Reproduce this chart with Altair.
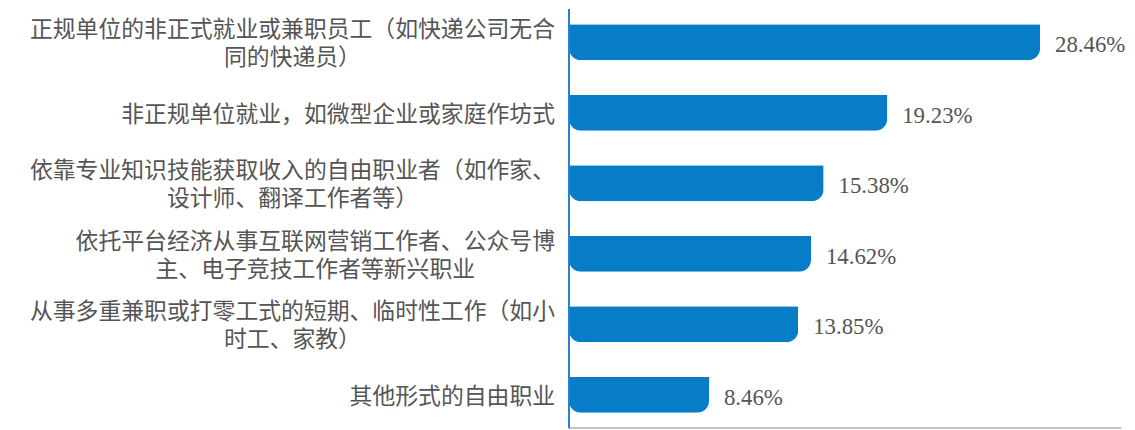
import altair as alt
import pandas as pd

# ---- data ----
labels = [
    "正规单位的非正式就业或兼职员工（如快递公司无合\n同的快递员）",
    "非正规单位就业，如微型企业或家庭作坊式",
    "依靠专业知识技能获取收入的自由职业者（如作家、\n设计师、翻译工作者等）",
    "依托平台经济从事互联网营销工作者、公众号博\n主、电子竞技工作者等新兴职业",
    "从事多重兼职或打零工式的短期、临时性工作（如小\n时工、家教）",
    "其他形式的自由职业",
]
values = [28.46, 19.23, 15.38, 14.62, 13.85, 8.46]
value_labels = ["28.46%", "19.23%", "15.38%", "14.62%", "13.85%", "8.46%"]

# ---- style ----
BAR_COLOR = "#077DC8"
AXIS_COLOR = "#2A80D2"
TEXT_COLOR = "#555555"
FS = 23            # CJK label font size (1 em = 1 character cell)
LH = 28            # line height of wrapped labels
LEFT = 565         # space left of the axis
GAP = 14           # gap between label block and axis
RIGHT_W = 556
H = 421
X_MAX = 33.35

df = pd.DataFrame({
    "cat": labels,
    "value": values,
    "vlabel": value_labels,
})
# half of the widest line, in character cells, so that wrapped lines are centred
df["half"] = [-max(len(s) for s in lab.split("\n")) / 2 for lab in labels]
df["nlines"] = [len(lab.split("\n")) for lab in labels]

yscale = alt.Scale(paddingInner=0.49, paddingOuter=0.21)
yenc = alt.Y("cat:N", sort=labels, scale=yscale, axis=None)

label_scale = alt.Scale(domain=[-(LEFT - GAP) / FS, 0], range=[-LEFT, -GAP], nice=False, zero=False)
label_base = alt.Chart(df).encode(
    x=alt.X("half:Q", scale=label_scale, axis=None),
    y=yenc,
    text="cat:N",
)
text_style = dict(align="center", baseline="middle", lineBreak="\n", lineHeight=LH,
                  font="Noto Sans CJK SC", fontSize=FS, color=TEXT_COLOR)
label_one = label_base.mark_text(dy=2, **text_style).transform_filter("datum.nlines == 1")
label_two = label_base.mark_text(dy=-LH / 2 + 2, **text_style).transform_filter("datum.nlines == 2")

xscale = alt.Scale(domain=[0, X_MAX], nice=False)
base = alt.Chart(df).encode(
    y=yenc,
    x=alt.X("value:Q", scale=xscale, axis=None),
)
bars = base.mark_bar(
    color=BAR_COLOR, cornerRadiusBottomLeft=12, cornerRadiusBottomRight=12,
)
vals = base.mark_text(
    align="left", baseline="middle", dx=15, dy=3,
    font="Liberation Serif", fontSize=23, color=TEXT_COLOR,
).encode(text="vlabel:N")
axis_line = alt.Chart(df).mark_rule(color=AXIS_COLOR, strokeWidth=2).encode(
    x=alt.datum(0)
)

chart = alt.layer(bars, axis_line, vals, label_one, label_two).resolve_scale(
    x="independent"
).properties(
    width=RIGHT_W, height=H,
    padding={"left": LEFT, "top": 0, "right": 6, "bottom": 0},
    autosize=alt.AutoSizeParams(type="none"),
).configure_view(stroke=None)

chart.save("out.html", embed_options={"renderer": "svg", "actions": False})
